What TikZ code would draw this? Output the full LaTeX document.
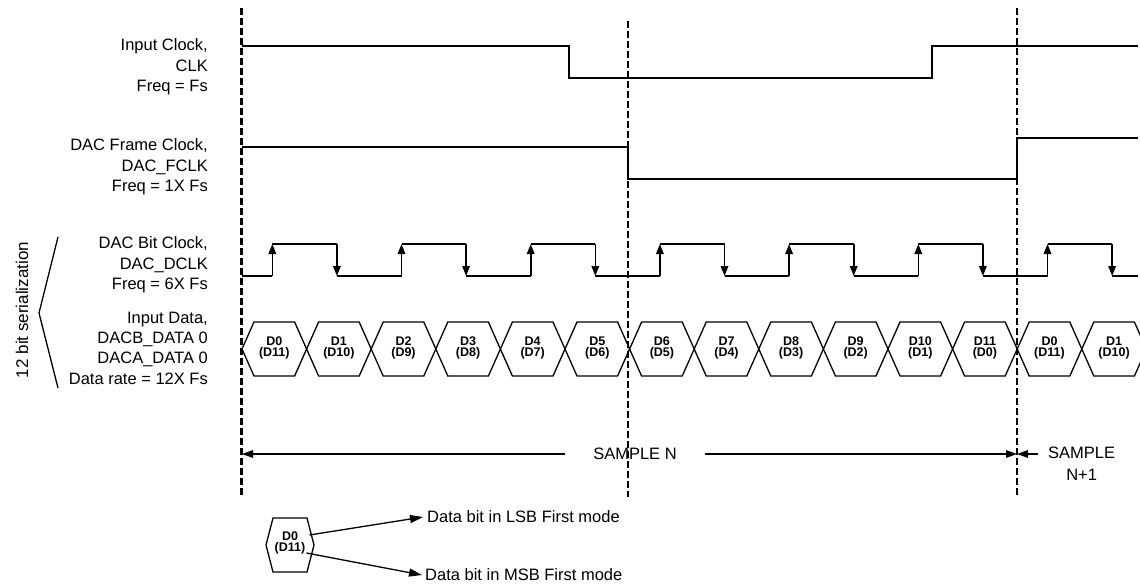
\documentclass[tikz,border=0pt]{standalone}
\usepackage{fontspec}
\setmainfont{Liberation Sans}
\usetikzlibrary{arrows.meta,positioning}
\tikzset{
  sig/.style={line width=1.6pt},
  guide/.style={line width=2.8pt, dash pattern=on 7pt off 3pt},
  lbl/.style={align=right, anchor=east, inner sep=0pt, font=\fontsize{16.5}{20.3}\selectfont},
  smp/.style={align=center, inner sep=0pt, font=\fontsize{16.5}{22}\selectfont},
  bit/.style={align=center, inner sep=0pt, font=\fontsize{12.5}{11.6}\selectfont\bfseries},
  edge/.style={sig, -{Triangle[length=10pt,width=7.5pt]}},
  pointer/.style={line width=1.3pt, -{Triangle[length=13pt,width=8pt]}},
}

\begin{document}
\begin{tikzpicture}[x=1pt, y=-1pt]
    \def\xa{242}   % start of sample N
    \def\bw{64.6}  % one data bit
    \def\ylo{276}
    \def\yhi{244}
    \useasboundingbox (0,0) rectangle (1140,587);

    % ── Sample boundaries ───────────────────────────────────────────────────
    \draw[guide] (241.5,8) -- (241.5,497);
    \draw[guide] (628,21) -- (628,497);
    \draw[guide] (1017,8) -- (1017,497);

    % ── Signal names ────────────────────────────────────────────────────────
    \node[lbl] (clkl)  at (208,67)    {Input Clock,\\CLK\\Freq = Fs};
    \node[lbl] (fclkl) at (208,167)   {DAC Frame Clock,\\DAC\_FCLK\\Freq = 1X Fs};
    \node[lbl] (dclkl) at (208,265)   {DAC Bit Clock,\\DAC\_DCLK\\Freq = 6X Fs};
    \node[lbl] (datal) at (208,348)   {Input Data,\\DACB\_DATA 0\\DACA\_DATA 0\\Data rate = 12X Fs};
    \draw[line width=1.3pt] (58,237) -- (39,313) -- (58,388);
    \node[rotate=90, inner sep=0pt, font=\fontsize{17}{20}\selectfont] (ser) at (22,310) {12 bit serialization};

    % ── CLK and DAC_FCLK ────────────────────────────────────────────────────
    \draw[sig] (\xa,46) -- (569,46) -- (569,78) -- (932,78) -- (932,46) -- (1138,46);
    \draw[sig] (\xa,147) -- (628,147) -- (628,179) -- (1017,179) -- (1017,138) -- (1138,138);

    % ── DAC_DCLK ────────────────────────────────────────────────────────────
    \draw[sig] (\xa,\ylo) -- ({\xa+0.5*\bw-2},\ylo);
    \foreach \k in {0,2,...,12} {
      \pgfmathsetmacro\xu{\xa+(\k+0.5)*\bw-2}
      \pgfmathsetmacro\xd{\xu+\bw}
      \pgfmathsetmacro\xn{min(\xu+2*\bw,1138)}
      \draw[edge] (\xu,\ylo) -- (\xu,\yhi);
      \draw[sig] (\xu,\yhi) -- (\xd,\yhi);
      \draw[edge] (\xd,\yhi) -- (\xd,\ylo);
      \draw[sig] (\xd,\ylo) -- (\xn,\ylo);
    }

    % ── Input data ──────────────────────────────────────────────────────────
    \begin{scope}
      \clip (0,0) rectangle (1140,587);
      \foreach \i/\a/\b in {0/D0/D11,1/D1/D10,2/D2/D9,3/D3/D8,4/D4/D7,5/D5/D6,6/D6/D5,
                            7/D7/D4,8/D8/D3,9/D9/D2,10/D10/D1,11/D11/D0,12/D0/D11,13/D1/D10} {
        \pgfmathsetmacro\xl{\xa+\i*\bw}
        \pgfmathsetmacro\xr{\xl+\bw}
        \draw[line width=1.3pt] (\xl,349) -- (\xl+12,322) -- (\xr-12,322) -- (\xr,349)
          -- (\xr-12,376) -- (\xl+12,376) -- cycle;
        \node[bit] (d\i) at ({(\xl+\xr)/2},348) {\a\\(\b)};
      }
    \end{scope}

    % ── Sample spans ────────────────────────────────────────────────────────
    \coordinate (snl) at (\xa,454);
    \coordinate (snr) at (1017,454);
    \node[smp, inner xsep=28pt] (sn) at (635,454) {SAMPLE N};
    \draw[sig, -{Triangle[length=11pt,width=7.5pt]}] (sn) -- (snl);
    \draw[sig, -{Triangle[length=11pt,width=7.5pt]}] (sn) -- (snr);
    \node[smp, anchor=west, inner xsep=10pt] (sn1) at (1038,464) {SAMPLE\\N+1};
    \draw[sig, -{Triangle[length=11pt,width=7.5pt]}] (sn1.west |- snr) -- (snr);

    % ── Legend ──────────────────────────────────────────────────────────────
    \draw[line width=1.3pt] (266,545) -- (273,518) -- (307,518) -- (314,545) -- (307,572) -- (273,572) -- cycle;
    \node[bit] (key) at (290,543) {D0\\(D11)};
    \node[smp, anchor=west] (lsb) at (427,517) {Data bit in LSB First mode};
    \node[smp, anchor=west] (msb) at (425,575) {Data bit in MSB First mode};
    \draw[pointer] ([xshift=4pt,yshift=8pt]key.east) -- ([xshift=-4pt]lsb.west);
    \draw[pointer] ([xshift=1pt,yshift=-10pt]key.east) -- ([xshift=-3pt]msb.west);
\end{tikzpicture}
\end{document}
